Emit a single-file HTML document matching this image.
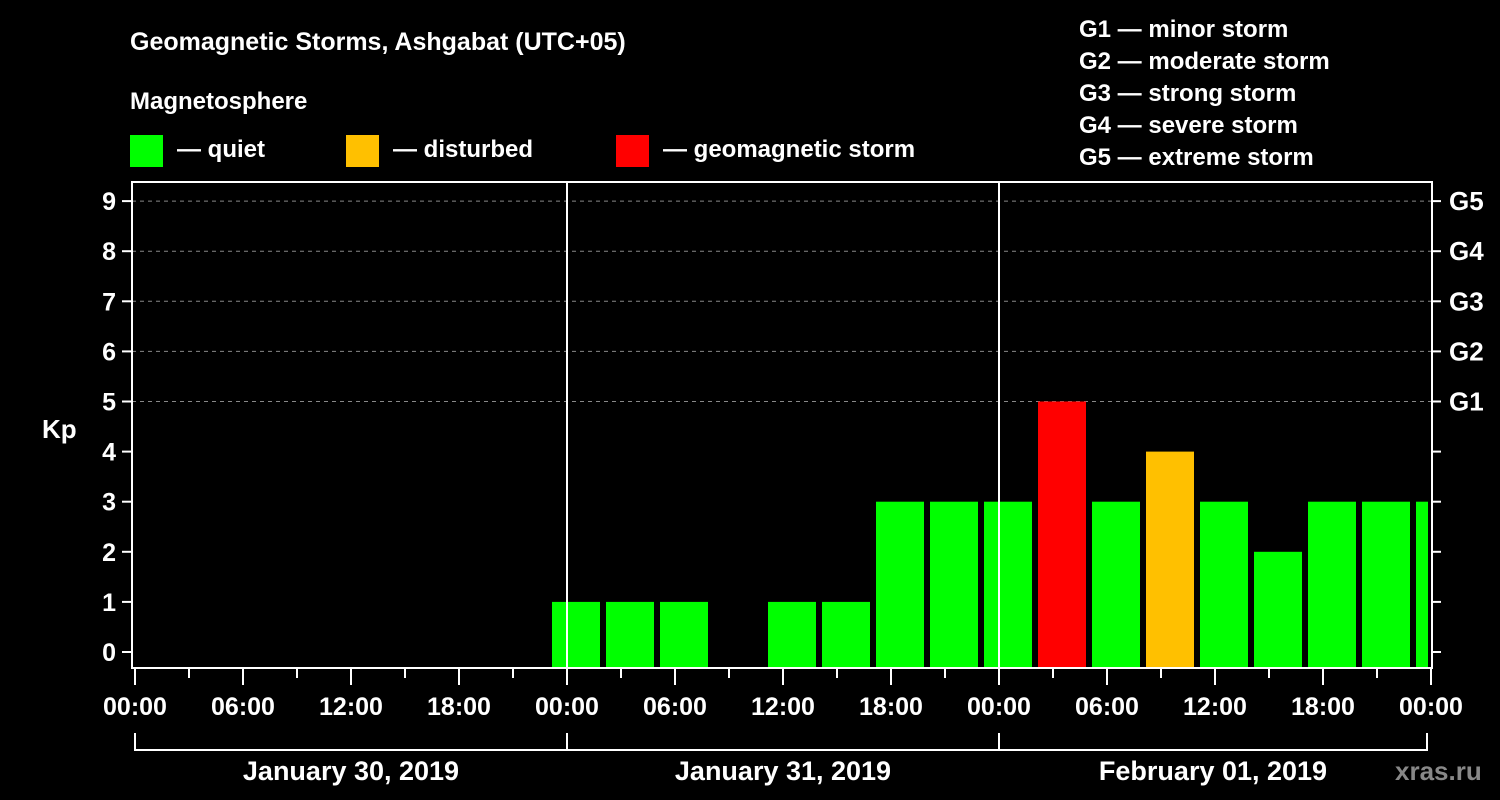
<!DOCTYPE html>
<html><head><meta charset="utf-8"><style>
html,body{margin:0;padding:0;background:#000;}
svg{display:block;font-family:"Liberation Sans",Arial,sans-serif;font-weight:bold;}
</style></head><body>
<svg id="chart" width="1500" height="800" viewBox="0 0 1500 800">
<text x="130" y="50" fill="#fff" font-size="25">Geomagnetic Storms, Ashgabat (UTC+05)</text>
<text x="130" y="109" fill="#fff" font-size="24">Magnetosphere</text>
<rect x="130" y="135" width="33" height="32" fill="#00ff00"/>
<text x="177" y="157" fill="#fff" font-size="24">— quiet</text>
<rect x="346" y="135" width="33" height="32" fill="#ffc000"/>
<text x="393" y="157" fill="#fff" font-size="24">— disturbed</text>
<rect x="616" y="135" width="33" height="32" fill="#ff0000"/>
<text x="663" y="157" fill="#fff" font-size="24">— geomagnetic storm</text>
<g fill="#fff" font-size="24">
<text x="1079" y="37">G1 — minor storm</text>
<text x="1079" y="69">G2 — moderate storm</text>
<text x="1079" y="101">G3 — strong storm</text>
<text x="1079" y="133">G4 — severe storm</text>
<text x="1079" y="165">G5 — extreme storm</text>
</g>
<text x="42" y="438" fill="#fff" font-size="26">Kp</text>
<g id="grid"></g><g id="bars"></g><g id="axes"></g>
<text x="1395" y="780" fill="#888" font-size="26">xras.ru</text>
</svg>
<script>
const kpValues=[null,null,null,null,null,null,null,null,1,1,1,null,1,1,3,3,3,5,3,4,3,2,3,3,3];
const yTicks=[0,1,2,3,4,5,6,7,8,9];
const gLabels=["G1","G2","G3","G4","G5"];
const gLevels=[5,6,7,8,9];
const hourLabels=["00:00","06:00","12:00","18:00"];
const dayLabels=["January 30, 2019","January 31, 2019","February 01, 2019"];
const NS="http://www.w3.org/2000/svg";
const X0=135,PXH=18,L=132,R=1432,T=182,B=668;
const y=v=>652-v*50.1;
const x=h=>X0+h*PXH;
function mk(t,a,p){const e=document.createElementNS(NS,t);for(const k in a)e.setAttribute(k,a[k]);(p||document.getElementById('axes')).appendChild(e);return e;}
const grid=document.getElementById('grid'),bars=document.getElementById('bars');
gLevels.forEach((v,i)=>{
 const g=mk('line',{x1:L,x2:R,y1:y(v),y2:y(v),stroke:'#888','stroke-dasharray':'4,4','stroke-width':1},grid);
 
 
 const t=mk('text',{x:1449,y:y(v)+9,fill:'#fff','font-size':26});t.textContent=gLabels[i];
 
 
});
kpValues.forEach((v,i)=>{
 if(v===null)return;
 const x1=x(i*3)-15, x2=Math.min(x1+48,R-4);
 const c=v>=5?'#ff0000':(v>=4?'#ffc000':'#00ff00');
 const b=mk('rect',{x:x1,y:y(v),width:x2-x1,height:B-y(v),fill:c},bars);
 
 
});
// day separators
[1,2].forEach(d=>{const l=mk('line',{x1:x(d*24),x2:x(d*24),y1:T,y2:B,stroke:'#fff','stroke-width':2});
 
 });
const f=mk('rect',{x:L,y:T,width:R-L,height:B-T,fill:'none',stroke:'#fff','stroke-width':2});


yTicks.forEach(v=>{
 mk('line',{x1:L-10,x2:L,y1:y(v),y2:y(v),stroke:'#fff','stroke-width':2});
 mk('line',{x1:R,x2:R+9,y1:y(v),y2:y(v),stroke:'#fff','stroke-width':2});
 const t=mk('text',{x:L-16,y:y(v)+9,fill:'#fff','font-size':25,'text-anchor':'end'});t.textContent=v;
 
 
});
for(let h=0;h<=72;h+=3){
 const major=h%6===0;
 mk('line',{x1:x(h),x2:x(h),y1:B,y2:B+(major?17:10),stroke:'#fff','stroke-width':2});
 if(major){const t=mk('text',{x:x(h),y:715,fill:'#fff','font-size':25,'text-anchor':'middle'});
  t.textContent=hourLabels[(h/6)%4];
  
  }
}
dayLabels.forEach((d,i)=>{
 const a=x(i*24),b=x(i*24+24)-(i==2?4:0);
 mk('path',{d:`M${a} 733V750H${b}V733`,fill:'none',stroke:'#fff','stroke-width':2});
 const t=mk('text',{x:(a+b)/2,y:780,fill:'#fff','font-size':27,'text-anchor':'middle'});t.textContent=d;
 
 
});
</script>
</body></html>
